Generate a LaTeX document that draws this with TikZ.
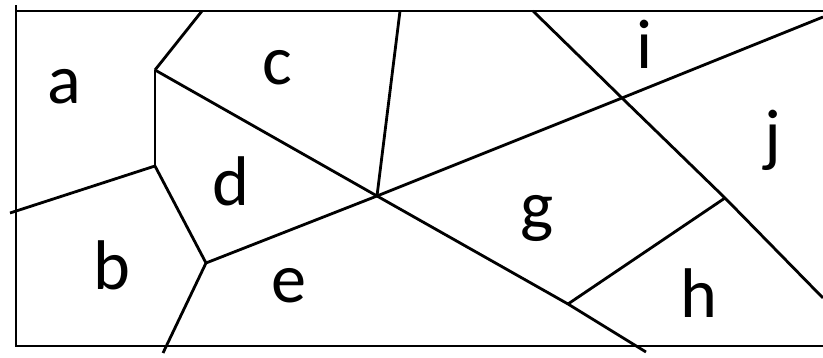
\documentclass[tikz,border=0pt]{standalone}
\usepackage{fontspec}
\setmainfont{Carlito}
\usetikzlibrary{positioning}

\begin{document}
\begin{tikzpicture}[
    x=0.02cm, y=-0.02cm,
    edge/.style={line width=1.6pt, black},
    region/.style={font=\fontsize{40}{48}\selectfont, inner sep=0pt},
]
\useasboundingbox (0,0) rectangle (823,358);

% ===== FRAME =====
\coordinate (framelt) at (16,5);
\coordinate (frametl) at (16,11);
\coordinate (framebl) at (16,346);
\coordinate (frametr) at (823,11);
\coordinate (framebr) at (823,346);
\draw[edge] (frametr) -- (frametl) -- (framelt);
\draw[edge] (frametl) -- (framebl) -- (framebr);

% ===== VERTICES =====
\coordinate (kinktop) at (155,70);
\coordinate (kinkmid) at (155,166);
\coordinate (kinklow) at (206,263);
\coordinate (hub) at (377,196);
\coordinate (cross) at (622,98);
\coordinate (hjoin) at (725,198);
\coordinate (gjoin) at (568,304);

% ===== EDGES =====
\draw[edge] (kinktop) -- (202,11);
\draw[edge] (kinktop) -- (kinkmid);
\draw[edge] (kinkmid) -- (10,213);
\draw[edge] (kinkmid) -- (kinklow);
\draw[edge] (kinklow) -- (163,353);
\draw[edge] (kinktop) -- (hub) -- (gjoin) -- (646,352);
\draw[edge] (hub) -- (400,11);
\draw[edge] (kinklow) -- (hub) -- (cross) -- (823,17);
\draw[edge] (533,11) -- (cross) -- (hjoin) -- (823,298);
\draw[edge] (gjoin) -- (hjoin);

% ===== LABELS =====
\node[region] (rega) at (64,87) {a};
\node[region] (regb) at (112,265) {b};
\node[region] (regc) at (277,68) {c};
\node[region] (regd) at (231,181) {d};
\node[region] (rege) at (289,286) {e};
\node[region] (regg) at (537,218) {g};
\node[region] (regh) at (699,293) {h};
\node[region] (regi) at (645,44) {i};
\node[region] (regj) at (773,140) {j};

\end{tikzpicture}
\end{document}
